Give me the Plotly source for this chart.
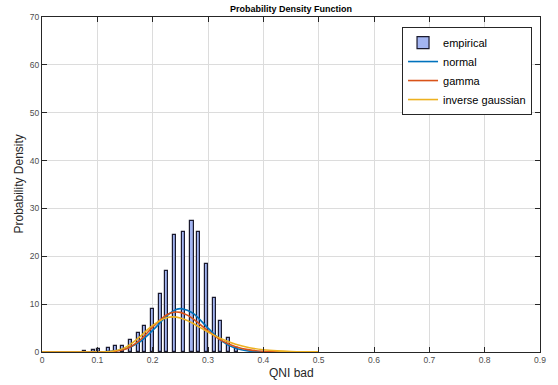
import plotly.graph_objects as go

# ---- data ----
bin_centers = [0.0776, 0.0925, 0.1028, 0.1196, 0.1335, 0.1448, 0.1600, 0.1737,
               0.1858, 0.1997, 0.2146, 0.2255, 0.2399, 0.2556, 0.2711, 0.2826,
               0.2967, 0.3115, 0.3223, 0.3368, 0.3523]
bin_density = [0.3, 0.5, 0.55, 0.8, 1.2, 1.25, 2.5, 4.0,
               5.4, 8.9, 12.2, 17.0, 24.5, 25.0, 27.3, 25.1,
               18.4, 11.3, 6.5, 2.85, 0.8]

curve_x = [0.0, 0.05, 0.075, 0.1, 0.125, 0.15, 0.175, 0.2, 0.225, 0.2375, 0.25,
           0.2625, 0.275, 0.3, 0.325, 0.35, 0.375, 0.4, 0.425, 0.45, 0.475, 0.5]
normal_pdf = [0.0, 0.0, 0.0, 0.02, 0.14, 0.62, 1.96, 4.51, 7.51, 8.6, 9.06,
              8.7, 7.91, 5.0, 2.29, 0.76, 0.18, 0.03, 0.003, 0.0, 0.0, 0.0]
gamma_pdf = [0.0, 0.0, 0.0, 0.003, 0.07, 0.57, 2.28, 5.19, 7.73, 8.3, 8.28,
             7.7, 6.76, 4.40, 2.38, 1.10, 0.44, 0.16, 0.05, 0.015, 0.004, 0.001]
invgauss_pdf = [0.0, 0.0, 0.0, 0.003, 0.11, 0.91, 2.99, 5.57, 7.17, 7.33, 7.11,
                6.6, 5.85, 4.19, 2.70, 1.60, 0.89, 0.47, 0.24, 0.115, 0.054, 0.025]

x_ticks = [0, 0.1, 0.2, 0.3, 0.4, 0.5, 0.6, 0.7, 0.8, 0.9]
y_ticks = [0, 10, 20, 30, 40, 50, 60, 70]

FONT = "Liberation Sans, Arial, Helvetica, sans-serif"

fig = go.Figure()
fig.add_trace(go.Bar(
    x=bin_centers, y=bin_density, width=0.0055, name="empirical",
    marker=dict(color="#a3b5f2", line=dict(color="#1a1a2e", width=1.2)),
))
fig.add_trace(go.Scatter(x=curve_x, y=normal_pdf, mode="lines", name="normal",
                         line=dict(color="#0072BD", width=1.6, shape="spline")))
fig.add_trace(go.Scatter(x=curve_x, y=gamma_pdf, mode="lines", name="gamma",
                         line=dict(color="#D95319", width=1.6, shape="spline")))
fig.add_trace(go.Scatter(x=curve_x, y=invgauss_pdf, mode="lines", name="inverse gaussian",
                         line=dict(color="#EDB120", width=1.6, shape="spline")))

axis_common = dict(
    showline=True, mirror="ticks", linecolor="#262626", linewidth=1,
    ticks="inside", ticklen=5, tickcolor="#262626",
    showgrid=True, gridcolor="#dcdcdc", gridwidth=1,
    zeroline=False, tickfont=dict(size=8.5, color="#4d4d4d", family=FONT),
)

fig.update_layout(
    width=558, height=385,
    margin=dict(l=42, r=17, t=15, b=33),
    paper_bgcolor="white", plot_bgcolor="white",
    font=dict(family=FONT, color="#262626"),
    bargap=0,
    showlegend=True,
    legend=dict(
        x=0.984, y=0.97, xanchor="right", yanchor="top",
        bgcolor="white", bordercolor="#262626", borderwidth=1,
        font=dict(size=11, color="#000000", family=FONT),
        tracegroupgap=0, itemwidth=30,
    ),
    xaxis=dict(range=[0, 0.9], tickvals=x_ticks,
               ticktext=[("%g" % v) for v in x_ticks], **axis_common),
    yaxis=dict(range=[0, 70], tickvals=y_ticks, **axis_common),
    annotations=[
        dict(text="<b>Probability Density Function</b>", xref="paper", yref="paper",
             x=0.5, y=1, yshift=8, showarrow=False, xanchor="center", yanchor="middle",
             font=dict(size=9, color="#000000", family=FONT)),
        dict(text="QNI bad", xref="paper", yref="paper", x=0.5, y=0, yshift=-21,
             showarrow=False, xanchor="center", yanchor="middle",
             font=dict(size=12, color="#262626", family=FONT)),
        dict(text="Probability Density", xref="paper", yref="paper", x=0, y=0.5,
             xshift=-24, showarrow=False, xanchor="center", yanchor="middle", textangle=-90,
             font=dict(size=12, color="#262626", family=FONT)),
    ],
)

fig.write_html("out.html")
